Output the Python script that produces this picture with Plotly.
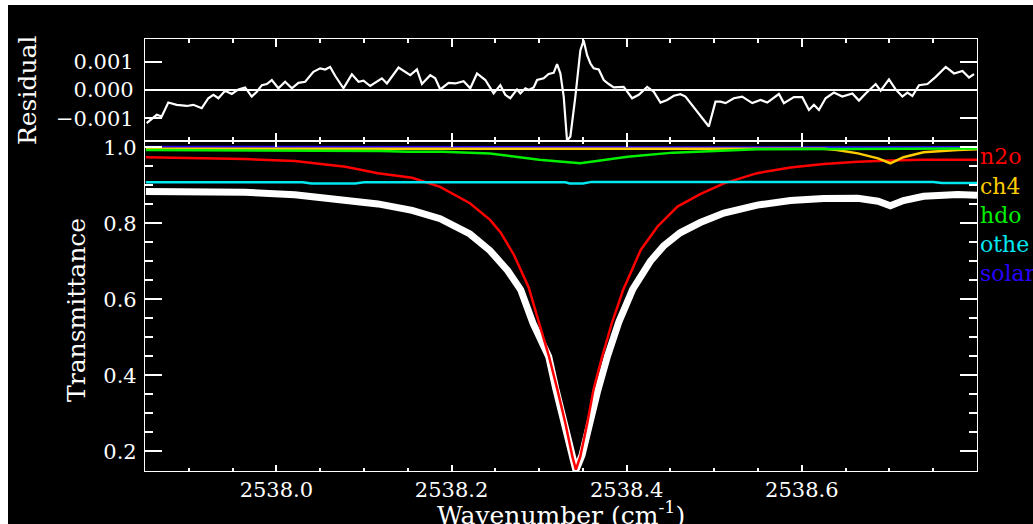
import plotly.graph_objects as go

# ---------------- data ----------------
res_wn = [2537.8519, 2537.8577, 2537.8634, 2537.8691, 2537.8766, 2537.8862, 2537.8977, 2537.9052,
          2537.9148, 2537.9223, 2537.9281, 2537.9338, 2537.9414, 2537.9491, 2537.9566, 2537.9643,
          2537.9719, 2537.9777, 2537.9834, 2537.9891, 2537.9948, 2538.0023, 2538.0100, 2538.0177,
          2538.0252, 2538.0329, 2538.0423, 2538.0500, 2538.0557, 2538.0614, 2538.0671, 2538.0766,
          2538.0862, 2538.0938, 2538.0995, 2538.1071, 2538.1129, 2538.1205, 2538.1262, 2538.1395,
          2538.1529, 2538.1605, 2538.1662, 2538.1757, 2538.1814, 2538.1871, 2538.1966, 2538.2043,
          2538.2138, 2538.2214, 2538.2291, 2538.2386, 2538.2481, 2538.2557, 2538.2614, 2538.2671,
          2538.2748, 2538.2786, 2538.2843, 2538.2881, 2538.2938, 2538.2977, 2538.3052, 2538.3109,
          2538.3166, 2538.3205, 2538.3243, 2538.3281, 2538.3319, 2538.3357, 2538.3414, 2538.3471,
          2538.3509, 2538.3548, 2538.3586, 2538.3623, 2538.3681, 2538.3738, 2538.3795, 2538.3852,
          2538.3966, 2538.4062, 2538.4138, 2538.4234, 2538.4309, 2538.4386, 2538.4462, 2538.4538,
          2538.4614, 2538.4671, 2538.4938, 2538.5014, 2538.5071, 2538.5129, 2538.5223, 2538.5319,
          2538.5434, 2538.5529, 2538.5605, 2538.5738, 2538.5795, 2538.5909, 2538.6005, 2538.6081,
          2538.6138, 2538.6195, 2538.6271, 2538.6366, 2538.6462, 2538.6577, 2538.6652, 2538.6729,
          2538.6843, 2538.6900, 2538.6995, 2538.7071, 2538.7148, 2538.7205, 2538.7262, 2538.7338,
          2538.7434, 2538.7529, 2538.7643, 2538.7738, 2538.7834, 2538.7909, 2538.7966]
res_val = [-0.00116, -0.00102, -0.00087, -0.00093, -0.00044, -0.00052, -0.00056, -0.00052,
           -0.00064, -0.00029, -0.00017, -0.00029, -0.00003, -0.00014, 0.00002, 0.00009,
           -0.00023, -0.00006, 0.00017, 0.00021, 0.00035, 0.00006, 0.00029, 0.00006,
           0.00025, 0.00029, 0.00064, 0.00076, 0.00072, 0.00081, 0.00050, 0.00006,
           0.00055, 0.00029, 0.00033, 0.00014, 0.00025, 0.00041, 0.00023, 0.00079,
           0.00052, 0.00072, 0.00021, 0.00052, 0.00041, 0.00002, 0.00025, 0.00023,
           0.00031, 0.00006, 0.00058, 0.00035, -0.00012, 0.00017, -0.00017, -0.00029,
           0.00002, -0.00012, 0.00006, 0.00000, 0.00009, 0.00035, 0.00041, 0.00056,
           0.00060, 0.00091, 0.00058, -0.00023, -0.00178, -0.00163, -0.00023, 0.00139,
           0.00174, 0.00122, 0.00093, 0.00076, 0.00072, 0.00035, 0.00021, 0.00009,
           0.00011, -0.00029, -0.00017, 0.00011, -0.00006, -0.00044, -0.00035, -0.00020,
           -0.00015, -0.00023, -0.00128, -0.00041, -0.00041, -0.00046, -0.00029, -0.00023,
           -0.00046, -0.00035, -0.00044, -0.00014, -0.00046, -0.00025, -0.00025, -0.00070,
           -0.00052, -0.00070, -0.00029, -0.00009, -0.00023, -0.00012, -0.00037, -0.00012,
           0.00021, -0.00002, 0.00037, 0.00002, -0.00023, -0.00009, -0.00021, 0.00017,
           0.00021, 0.00046, 0.00081, 0.00058, 0.00067, 0.00044, 0.00056]

obs_wn = [2537.851, 2537.964, 2538.021, 2538.079, 2538.116, 2538.155, 2538.187, 2538.221,
          2538.244, 2538.264, 2538.279, 2538.293, 2538.301, 2538.311, 2538.319, 2538.328,
          2538.337, 2538.342, 2538.349, 2538.357, 2538.367, 2538.378, 2538.391, 2538.407,
          2538.427, 2538.442, 2538.461, 2538.484, 2538.511, 2538.549, 2538.587, 2538.625,
          2538.664, 2538.687, 2538.701, 2538.716, 2538.739, 2538.778, 2538.800]
obs_val = [0.884, 0.882, 0.875, 0.862, 0.851, 0.834, 0.812, 0.772,
           0.728, 0.676, 0.625, 0.537, 0.499, 0.449, 0.365, 0.280,
           0.190, 0.150, 0.190, 0.275, 0.360, 0.450, 0.540, 0.627,
           0.700, 0.740, 0.775, 0.802, 0.827, 0.848, 0.860, 0.865,
           0.866, 0.858, 0.846, 0.860, 0.871, 0.876, 0.874]

n2o_wn = [2537.851, 2537.964, 2538.021, 2538.079, 2538.116, 2538.155, 2538.187, 2538.221,
          2538.244, 2538.256, 2538.271, 2538.288, 2538.299, 2538.311, 2538.321, 2538.330,
          2538.338, 2538.342, 2538.347, 2538.355, 2538.362, 2538.372, 2538.383, 2538.396,
          2538.401, 2538.416, 2538.435, 2538.458, 2538.484, 2538.511, 2538.549, 2538.587,
          2538.625, 2538.664, 2538.701, 2538.739, 2538.800]
n2o_val = [0.974, 0.969, 0.964, 0.949, 0.932, 0.920, 0.896, 0.853,
           0.809, 0.776, 0.718, 0.632, 0.545, 0.452, 0.361, 0.274,
           0.186, 0.152, 0.186, 0.274, 0.361, 0.449, 0.537, 0.625,
           0.651, 0.730, 0.791, 0.844, 0.877, 0.905, 0.932, 0.947,
           0.956, 0.962, 0.965, 0.967, 0.967]

ch4_wn = [2537.851, 2538.400, 2538.625, 2538.640, 2538.664, 2538.687, 2538.701, 2538.716,
          2538.739, 2538.778, 2538.800]
ch4_val = [0.996, 0.996, 0.996, 0.993, 0.984, 0.971, 0.958, 0.974, 0.987, 0.993, 0.995]

hdo_wn = [2537.851, 2538.060, 2538.120, 2538.150, 2538.190, 2538.244, 2538.300, 2538.347,
          2538.401, 2538.453, 2538.480, 2538.549, 2538.800]
hdo_val = [0.993, 0.992, 0.990, 0.988, 0.988, 0.984, 0.967, 0.958,
           0.975, 0.986, 0.988, 0.995, 0.997]

oth_wn = [2537.851, 2538.030, 2538.040, 2538.090, 2538.100, 2538.330, 2538.335, 2538.350,
          2538.360, 2538.750, 2538.760, 2538.800]
oth_val = [0.908, 0.908, 0.905, 0.905, 0.908, 0.908, 0.905, 0.905,
           0.909, 0.909, 0.906, 0.906]

sol_wn = [2537.851, 2538.100, 2538.500, 2538.800]
sol_val = [1.0015, 1.0005, 1.0000, 1.0010]

x_tickvals = [2538.0, 2538.2, 2538.4, 2538.6]
x_ticktext = ["2538.0", "2538.2", "2538.4", "2538.6"]
y_tickvals = [0.2, 0.4, 0.6, 0.8, 1.0]
y_ticktext = ["0.2", "0.4", "0.6", "0.8", "1.0"]
r_tickvals = [-0.001, 0.0, 0.001]
r_ticktext = ["\u22120.001", "0.000", "0.001"]

legend_names = ["n2o", "ch4", "hdo", "othe", "solar"]
legend_colors = ["#ff0000", "#ffcc00", "#00f000", "#00e8f0", "#2a00ff"]

# ---------------- layout geometry ----------------
W, H = 1033, 524
ML, MR, MT, MB = 145, 1033 - 977, 39, 524 - 471
PW, PH = W - ML - MR, H - MT - MB
split = (471 - 141) / PH
FONT = "DejaVu Serif"


def px_x(p):
    return (p - ML) / PW


def px_y(p):
    return (471 - p) / PH


fig = go.Figure()

# residual panel
fig.add_trace(go.Scatter(x=[2537.85, 2538.80], y=[0, 0], mode="lines",
                         line=dict(color="white", width=2), xaxis="x2", yaxis="y2",
                         showlegend=False, hoverinfo="skip"))
fig.add_trace(go.Scatter(x=res_wn, y=res_val, mode="lines",
                         line=dict(color="white", width=2.2), xaxis="x2", yaxis="y2",
                         showlegend=False))

# transmittance panel
fig.add_trace(go.Scatter(x=obs_wn, y=obs_val, mode="lines", line=dict(color="white", width=7),
                         showlegend=False))
fig.add_trace(go.Scatter(x=n2o_wn, y=n2o_val, mode="lines",
                         line=dict(color=legend_colors[0], width=2.5), showlegend=False))
fig.add_trace(go.Scatter(x=sol_wn, y=sol_val, mode="lines",
                         line=dict(color=legend_colors[4], width=2), showlegend=False))
fig.add_trace(go.Scatter(x=ch4_wn, y=ch4_val, mode="lines",
                         line=dict(color=legend_colors[1], width=2.5), showlegend=False))
fig.add_trace(go.Scatter(x=hdo_wn, y=hdo_val, mode="lines",
                         line=dict(color=legend_colors[2], width=2.5), showlegend=False))
fig.add_trace(go.Scatter(x=oth_wn, y=oth_val, mode="lines",
                         line=dict(color=legend_colors[3], width=2.5), showlegend=False))

axis_common = dict(showline=True, linecolor="white", linewidth=1.2, mirror="ticks",
                   ticks="inside", tickcolor="white", tickwidth=1.5, showgrid=False,
                   zeroline=False, tickfont=dict(family=FONT, size=21, color="white"))

fig.update_layout(
    width=W, height=H,
    margin=dict(l=ML, r=MR, t=MT, b=MB, pad=0),
    paper_bgcolor="white", plot_bgcolor="black",
    font=dict(family=FONT, color="white"),
    xaxis=dict(axis_common, range=[2537.85, 2538.80], tickvals=x_tickvals, ticktext=x_ticktext,
               ticklen=6, ticklabelstandoff=0,
               minor=dict(dtick=0.05, tick0=2538.0, ticks="inside", ticklen=3,
                          tickcolor="white", tickwidth=1.5, showgrid=False),
               anchor="y"),
    xaxis2=dict(axis_common, range=[2537.85, 2538.80], tickvals=x_tickvals,
                showticklabels=False, ticklen=8,
                minor=dict(dtick=0.05, tick0=2538.0, ticks="inside", ticklen=4,
                           tickcolor="white", tickwidth=1.5, showgrid=False),
                anchor="y2", matches="x"),
    yaxis=dict(axis_common, domain=[0, split], range=[0.1482, 1.0166],
               tickvals=y_tickvals, ticktext=y_ticktext, ticklen=17, ticklabelstandoff=3,
               minor=dict(dtick=0.05, tick0=0.2, ticks="inside", ticklen=8,
                          tickcolor="white", tickwidth=1.5, showgrid=False),
               anchor="x"),
    yaxis2=dict(axis_common, domain=[split, 1], range=[-0.00179, 0.00179],
                tickvals=r_tickvals, ticktext=r_ticktext,
                ticklen=17, ticklabelstandoff=6, anchor="x2"),
)

# black page area (reference has a thin white strip at the top and left)
fig.add_shape(type="rect", xref="paper", yref="paper", layer="below",
              x0=px_x(8), x1=px_x(W + 5), y0=px_y(H + 5), y1=px_y(5),
              fillcolor="black", line=dict(width=0))

# axis titles
fig.add_annotation(text="Residual", xref="paper", yref="paper", x=px_x(27), y=px_y(91),
                   textangle=-90, showarrow=False, xanchor="center", yanchor="middle",
                   font=dict(family=FONT, size=25, color="white"))
fig.add_annotation(text="Transmittance", xref="paper", yref="paper", x=px_x(76), y=px_y(310),
                   textangle=-90, showarrow=False, xanchor="center", yanchor="middle",
                   font=dict(family=FONT, size=25, color="white"))
fig.add_annotation(text="Wavenumber (cm<sup>-1</sup>)", xref="paper", yref="paper",
                   x=px_x(561), y=px_y(513), showarrow=False, xanchor="center",
                   yanchor="middle", font=dict(family=FONT, size=25, color="white"))

# coloured species labels at the right
label_y = [156, 186, 215, 244, 273]
for name, col, yy in zip(legend_names, legend_colors, label_y):
    fig.add_annotation(text=name, xref="paper", yref="paper", x=px_x(978), y=px_y(yy),
                       showarrow=False, xanchor="left", yanchor="middle",
                       font=dict(family=FONT, size=22, color=col))

fig.write_html("out.html")
